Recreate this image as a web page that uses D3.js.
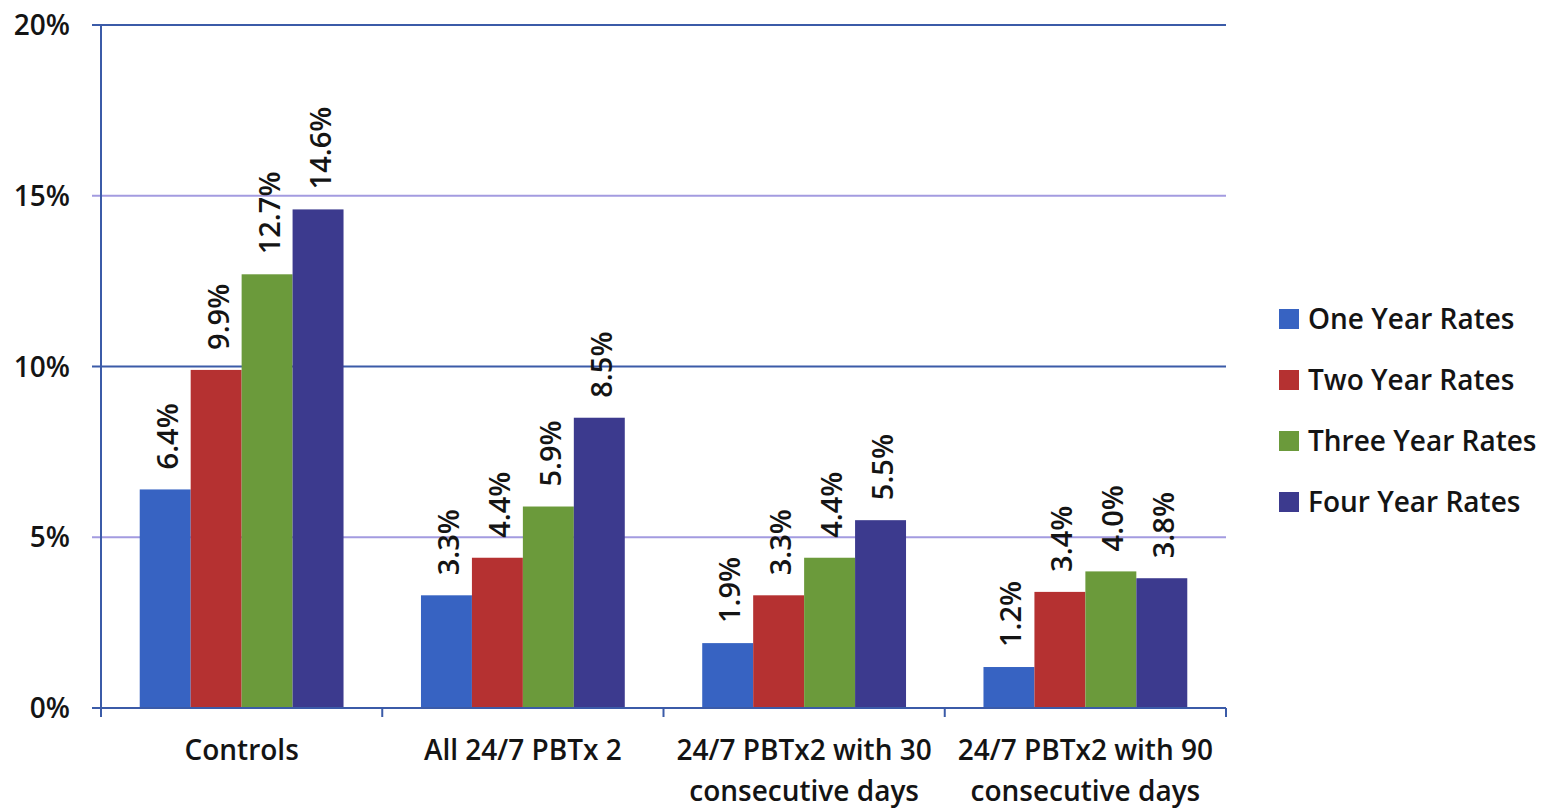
<!DOCTYPE html>
<html>
<head>
<meta charset="utf-8">
<script src="https://cdn.jsdelivr.net/npm/d3@7"></script>
<style>
  body { margin: 0; background: #fff; }
  text { font-family: "Open Sans", Lato, sans-serif; fill: #141414; font-weight: 600; }
</style>
</head>
<body>
<div id="chart"></div>
<script>
var categories = [
    ["Controls"],
    ["All 24/7 PBTx 2"],
    ["24/7 PBTx2 with 30", "consecutive days"],
    ["24/7 PBTx2 with 90", "consecutive days"]
];
var seriesNames = ["One Year Rates", "Two Year Rates", "Three Year Rates", "Four Year Rates"];
var oneYear = [6.4, 3.3, 1.9, 1.2];
var twoYear = [9.9, 4.4, 3.3, 3.4];
var threeYear = [12.7, 5.9, 4.4, 4.0];
var fourYear = [14.6, 8.5, 5.5, 3.8];
var yTicks = [0, 5, 10, 15, 20];

var colors = ["#3763c2", "#b53131", "#6b9a3b", "#3c3a8e"];
var seriesValues = [oneYear, twoYear, threeYear, fourYear];

function drawChart() {
    var width = 1549, height = 808;
    var mLeft = 101, mRight = 1226, mTop = 25, mBottom = 708;

    var svg = d3.select("#chart").append("svg")
        .attr("width", width)
        .attr("height", height);

    var x0 = d3.scaleBand()
        .domain(d3.range(categories.length))
        .range([mLeft, mRight]);

    var x1 = d3.scaleBand()
        .domain(d3.range(seriesNames.length))
        .range([0, x0.bandwidth()])
        .paddingOuter(0.76)
        .paddingInner(0);

    var y = d3.scaleLinear()
        .domain([0, 20])
        .range([mBottom, mTop]);

    // gridlines
    svg.append("g")
        .selectAll("line")
        .data(yTicks.filter(d => d > 0))
        .join("line")
        .attr("x1", mLeft - 9)
        .attr("x2", mRight)
        .attr("y1", d => y(d))
        .attr("y2", d => y(d))
        .attr("stroke", function(d) {
            return d % 10 == 0 ? "#3b5ba8" : "#a39be0";
        })
        .attr("stroke-width", 2);

    // y tick labels
    svg.append("g")
        .selectAll("text")
        .data(yTicks)
        .join("text")
        .attr("x", 70)
        .attr("y", d => y(d))
        .attr("dy", "0.36em")
        .attr("text-anchor", "end")
        .style("font-size", "28px")
        .text(d => d + "%");

    // bars
    var groups = svg.append("g")
        .selectAll("g")
        .data(categories)
        .join("g")
        .attr("transform", (d, i) => "translate(" + x0(i) + ",0)");

    var cells = (d, i) => seriesValues.map(function(s, j) { return { s: j, v: s[i] }; });

    groups.selectAll("rect")
        .data(cells)
        .join("rect")
        .attr("x", d => x1(d.s))
        .attr("width", x1.bandwidth())
        .attr("y", d => y(d.v))
        .attr("height", d => y(0) - y(d.v))
        .attr("fill", d => colors[d.s]);

    groups.selectAll("text.val")
        .data(cells)
        .join("text")
        .attr("class", "val")
        .attr("transform", function(d) {
            return "translate(" + (x1(d.s) + x1.bandwidth() / 2 + 2) + "," + (y(d.v) - 20) + ") rotate(-90)";
        })
        .attr("dy", "0.36em")
        .style("font-size", "29px")
        .text(d => d.v.toFixed(1) + "%");

    // axis lines
    svg.append("line")
        .attr("x1", mLeft).attr("x2", mLeft)
        .attr("y1", mTop).attr("y2", mBottom + 8)
        .attr("stroke", "#3b5ba8")
        .attr("stroke-width", 2);

    svg.append("line")
        .attr("x1", mLeft - 9).attr("x2", mRight)
        .attr("y1", mBottom).attr("y2", mBottom)
        .attr("stroke", "#3b5ba8")
        .attr("stroke-width", 2);

    svg.append("g")
        .selectAll("line")
        .data(d3.range(categories.length + 1))
        .join("line")
        .attr("x1", d => mLeft + d * x0.bandwidth())
        .attr("x2", d => mLeft + d * x0.bandwidth())
        .attr("y1", mBottom)
        .attr("y2", mBottom + 9)
        .attr("stroke", "#3b5ba8")
        .attr("stroke-width", 2);

    // category labels
    svg.append("g")
        .selectAll("text")
        .data(categories)
        .join("text")
        .attr("x", (d, i) => x0(i) + x0.bandwidth() / 2)
        .attr("y", 760)
        .attr("text-anchor", "middle")
        .style("font-size", "28px")
        .selectAll("tspan")
        .data(d => d)
        .join("tspan")
        .attr("x", function() { return this.parentNode.getAttribute("x"); })
        .attr("dy", (d, i) => i == 0 ? 0 : 41)
        .text(d => d);

    // legend
    var legend = svg.append("g")
        .selectAll("g")
        .data(seriesNames)
        .join("g")
        .attr("transform", (d, i) => "translate(1279," + (319 + i * 61) + ")");

    legend.append("rect")
        .attr("x", 0)
        .attr("y", -10)
        .attr("width", 20)
        .attr("height", 20)
        .attr("fill", (d, i) => colors[i]);

    legend.append("text")
        .attr("x", 29)
        .attr("dy", "0.36em")
        .style("font-size", "28px")
        .text(d => d);
}

drawChart();
</script>
</body>
</html>
